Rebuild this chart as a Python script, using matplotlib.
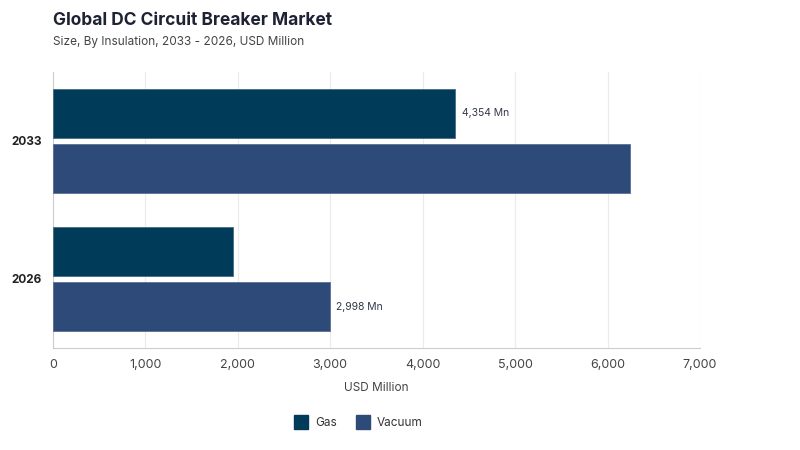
import matplotlib
matplotlib.use("Agg")
import matplotlib.pyplot as plt
from matplotlib.lines import Line2D
import numpy as np

plt.rcParams['font.family'] = ['Inter', 'DejaVu Sans']

years = ['2026', '2033']
gas = [1948, 4354]
vacuum = [2998, 6245]
gas_color = '#003b5a'
vac_color = '#2e4a79'

fig = plt.figure(figsize=(8, 4.5), dpi=100)
ax = fig.add_axes([0.066, 0.2267, 0.809, 0.6133])

y = np.arange(len(years))
h = 0.355
off = 0.2
ax.barh(y + off, gas, height=h, color=gas_color, edgecolor='#4a6a80', linewidth=0.6, zorder=3)
ax.barh(y - off, vacuum, height=h, color=vac_color, edgecolor='#5a6f95', linewidth=0.6, zorder=3)

# value labels: gas on 2033, vacuum on 2026
ax.text(gas[1] + 70, 1 + off, f"{gas[1]:,} Mn", va='center', ha='left', fontsize=7.5, color='#333a4a')
ax.text(vacuum[0] + 70, 0 - off, f"{vacuum[0]:,} Mn", va='center', ha='left', fontsize=7.5, color='#333a4a')

ax.set_xlim(0, 7000)
ax.set_ylim(-0.5, 1.5)
ax.set_xticks(range(0, 7001, 1000))
ax.set_xticklabels([f"{v:,}" for v in range(0, 7001, 1000)], fontsize=9, color='#444444')
ax.set_yticks(y)
ax.set_yticklabels(years, fontsize=8.5, fontweight='bold', color='#222222')
ax.tick_params(axis='y', length=0, pad=8)
ax.tick_params(axis='x', length=0, pad=8)
ax.grid(axis='x', color='#ebebeb', linewidth=0.8, zorder=0)
for s in ['top', 'right']:
    ax.spines[s].set_visible(False)
ax.spines['left'].set_color('#cccccc')
ax.spines['bottom'].set_color('#cccccc')
ax.set_xlabel('USD Million', fontsize=8.5, color='#444444', labelpad=8)

fig.text(0.066, 0.945, 'Global DC Circuit Breaker Market', fontsize=12.5, fontweight='bold', color='#1e2233')
fig.text(0.066, 0.9, 'Size, By Insulation, 2033 - 2026, USD Million', fontsize=8.5, color='#444444')

handles = [Line2D([], [], marker='s', linestyle='', markersize=10, color=gas_color, label='Gas'),
           Line2D([], [], marker='s', linestyle='', markersize=10, color=vac_color, label='Vacuum')]
fig.legend(handles=handles, loc='center', bbox_to_anchor=(0.445, 0.06), ncol=2, frameon=False,
           fontsize=8.5, handletextpad=0.2, columnspacing=1.2, labelcolor='#333333')

fig.savefig('out.png', dpi=100)
